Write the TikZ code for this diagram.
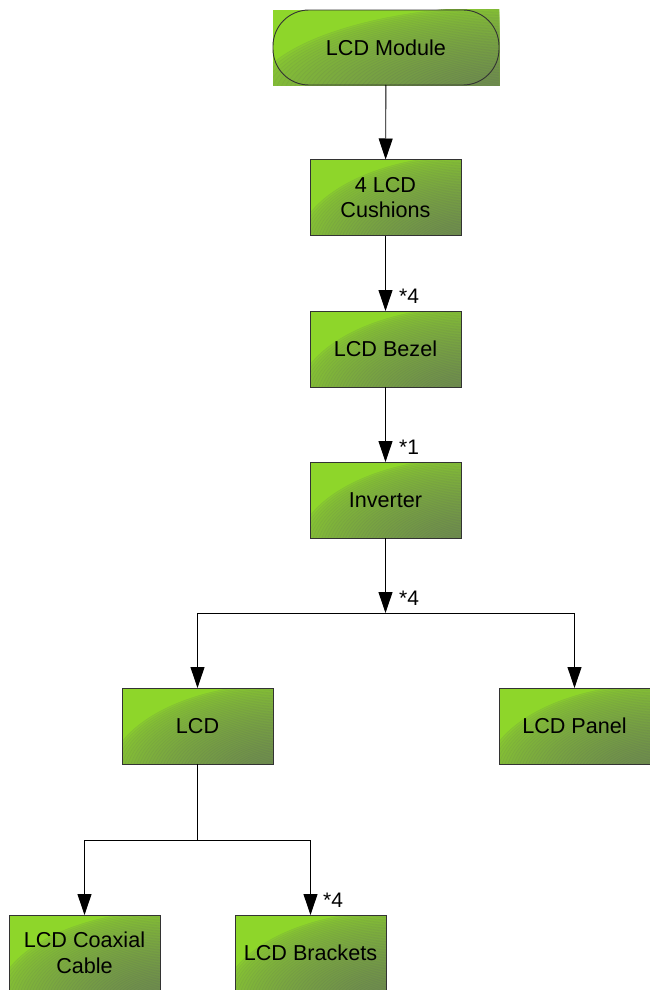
\documentclass[tikz,border=0pt]{standalone}
\usepackage{fontspec}
\setmainfont{Liberation Sans}
\usetikzlibrary{arrows.meta}
\definecolor{gbright}{HTML}{8ED62A}
\definecolor{gdark}{HTML}{6A8450}
\definecolor{gborder}{HTML}{333333}
\tikzset{
  gshade/.style n args={4}{path picture={
    \fill[gbright] (path picture bounding box.south west) rectangle (path picture bounding box.north east);
    \foreach \k in {0,...,59} {
      \pgfmathsetmacro\s{1-\k/60}
      \pgfmathsetmacro\m{16+84*(\k/60)^0.6}
      \pgfmathsetmacro\n{min(100,\m+16)}
      \filldraw[fill=gdark!\m!gbright, draw=gdark!\n!gbright, line width=0.35pt] ([xshift=#3,yshift=#4]path picture bounding box.south east) ellipse ({#1*\s pt} and {#2*\s pt});
    }
  }},
  gbox/.style={draw=gborder, line width=0.8pt, minimum width=151pt, minimum height=76pt,
    inner sep=0pt, outer sep=0pt, align=center, font=\fontsize{21.6}{24.5}\selectfont,
    gshade={175}{95}{10pt}{-15pt}},
  lbl/.style={font=\fontsize{21}{24}\selectfont, inner sep=0pt, anchor=base west},
  arr/.style={line width=0.9pt, -{Triangle[length=21pt,width=14pt]}},
  ln/.style={line width=0.9pt},
}
\begin{document}
\begin{tikzpicture}[x=1pt,y=-1pt]
\useasboundingbox (0,0) rectangle (649,990);
% top module
\node[gbox, draw=none, minimum width=226pt, minimum height=75pt, gshade={262}{94}{15pt}{-15pt}] (mod) at (386,47.5) {LCD Module};
\draw[gborder, line width=0.9pt, rounded corners=36pt] (mod.south west) rectangle (mod.north east);
\node[gbox] (cush) at (385.5,197.5) {4 LCD\\Cushions};
\node[gbox] (bez) at (385.5,349) {LCD Bezel};
\node[gbox] (inv) at (385.5,500) {Inverter};
\node[gbox] (lcd) at (197.5,726) {LCD};
\node[gbox] (panel) at (574.5,726) {LCD Panel};
\node[gbox, font=\fontsize{21.6}{26.5}\selectfont] (coax) at (84.5,953) {LCD Coaxial\\Cable};
\node[gbox] (brk) at (310.5,953) {LCD Brackets};
% labels
\node[lbl] (l1) at (399,303) {*4};
\node[lbl] (l2) at (399,454) {*1};
\node[lbl] (l3) at (399,605) {*4};
\node[lbl] (l4) at (323,907) {*4};
% connectors
\draw[arr] (mod) -- (cush);
\draw[arr] (cush) -- (bez);
\draw[arr] (bez) -- (inv);
\coordinate (j1) at (385.5,613);
\coordinate (j1l) at (197.5,613);
\coordinate (j1r) at (574.5,613);
\draw[arr] (inv) -- (j1);
\draw[ln] (j1l) -- (j1r);
\draw[arr] (j1l) -- (lcd);
\draw[arr] (j1r) -- (panel);
\coordinate (j2) at (197.5,840);
\coordinate (j2l) at (84.5,840);
\coordinate (j2r) at (310.5,840);
\draw[ln] (lcd) -- (j2);
\draw[ln] (j2l) -- (j2r);
\draw[arr] (j2l) -- (coax);
\draw[arr] (j2r) -- (brk);
\end{tikzpicture}
\end{document}
